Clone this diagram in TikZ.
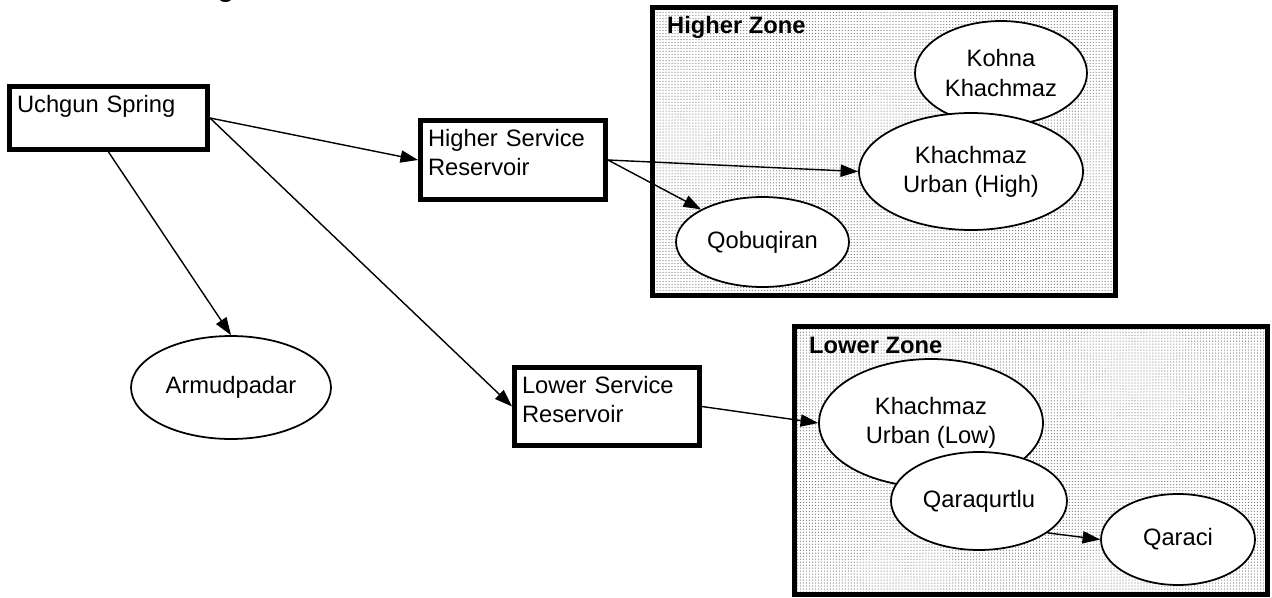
\documentclass[tikz,border=0pt]{standalone}
\usepackage{fontspec}
\setmainfont{Liberation Sans}
\usetikzlibrary{arrows.meta,shapes.geometric,patterns}
\pgfdeclarepatternformonly{zonedots}{\pgfqpoint{-.5pt}{-.5pt}}{\pgfqpoint{.5pt}{.5pt}}{\pgfqpoint{1.7pt}{1.7pt}}{\pgfpathcircle{\pgfqpoint{0pt}{0pt}}{.36pt}\pgfusepath{fill}}
\tikzset{
 resbox/.style={draw,rectangle,line width=2.8pt,fill=white,align=left,inner xsep=.15cm,inner ysep=.17cm,text height=.34cm},
 town/.style={draw,ellipse,line width=1pt,fill=white,inner sep=1pt,align=center},
 zone/.style={draw,rectangle,line width=3pt,inner sep=0pt,outer sep=0pt,pattern=zonedots,pattern color=black!50},
 zonename/.style={anchor=base west,font=\fontsize{13.5}{16.6}\selectfont\bfseries},
 flow/.style={-{Triangle[length=10pt,width=7pt]},line width=.8pt}
}
\begin{document}
\begin{tikzpicture}[x=.02cm,y=-.02cm,font=\fontsize{13.5}{16.6}\selectfont]
 \useasboundingbox (0,0) rectangle (1272,598);
 \node[font=\bfseries\fontsize{16}{16}\selectfont,anchor=base] (ttl) at (226,-3) {g};
 % zones
 \node[zone,minimum width=9.26cm,minimum height=5.76cm] (hzone) at (884,151.5) {};
 \node[zone,minimum width=9.46cm,minimum height=5.36cm] (lzone) at (1031,460.5) {};
 \node[zonename] (hzlabel) at (661,34) {Higher Zone};
 \node[zonename] (lzlabel) at (803,353) {Lower Zone};
 % sources and reservoirs
 \node[resbox,text width=3.66cm,text depth=.58cm] (us) at (108.5,118) {Uchgun Spring};
 \node[resbox,text width=3.4cm,text depth=.9cm] (hsr) at (513,160) {Higher Service\\Reservoir};
 \node[resbox,text width=3.4cm,text depth=.88cm] (lsr) at (607,406.5) {Lower Service\\Reservoir};
 % villages
 \node[town,minimum width=3.44cm,minimum height=2.08cm] (kohna) at (1001,73) {Kohna\\Khachmaz};
 \node[town,minimum width=4.48cm,minimum height=2.34cm] (urbhigh) at (971,171.5) {Khachmaz\\Urban (High)};
 \node[town,minimum width=3.46cm,minimum height=1.8cm] (qobu) at (762.5,242) {Qobuqiran};
 \node[town,minimum width=4cm,minimum height=2.06cm] (armud) at (231,387.5) {Armudpadar};
 \node[town,minimum width=4.48cm,minimum height=2.56cm] (urblow) at (931,423) {Khachmaz\\Urban (Low)};
 \node[town,minimum width=3.52cm,minimum height=1.96cm] (qaraq) at (979,501) {Qaraqurtlu};
 \node[town,minimum width=3.08cm,minimum height=1.82cm] (qaraci) at (1178,539.5) {Qaraci};
 % flows
 \draw[flow] (us.east) -- (hsr.west);
 \draw[flow] (us.east) -- (lsr.west);
 \draw[flow] (us.south) -- (armud.north);
 \draw[flow] (hsr.east) -- (urbhigh.west);
 \draw[flow] (hsr.east) -- (qobu);
 \draw[flow] (lsr.east) -- (urblow.west);
 \draw[flow] (qaraq.-25) -- (qaraci.west);
\end{tikzpicture}
\end{document}
